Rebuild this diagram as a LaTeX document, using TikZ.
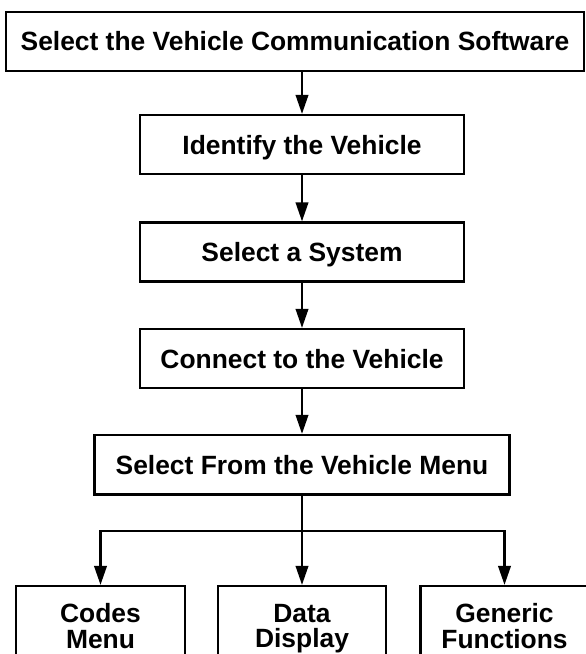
\documentclass[tikz,border=0pt]{standalone}
\usepackage{fontspec}
\setmainfont{Liberation Sans}
\usetikzlibrary{arrows.meta}
\begin{document}
\begin{tikzpicture}[x=1pt,y=-1pt,
  box/.style={draw=black, line width=2.2pt, inner sep=0pt, fill=white,
    font=\bfseries\fontsize{26.4}{25.6}\selectfont, text height=19pt, text depth=0pt},
  conn/.style={draw=black, line width=2.2pt},
  arr/.style={conn, -{Triangle[length=19pt,width=12.5pt]}}]
\useasboundingbox (0,0) rectangle (586,654);
\clip (0,0) rectangle (586,654);
\fill[white] (0,0) rectangle (586,654);
\node[box, minimum width=578pt, minimum height=59pt] (top) at (295,41.2) {Select the Vehicle Communication Software};
\node[box, minimum width=324pt, minimum height=59pt] (b2) at (302,144.5) {Identify the Vehicle};
\node[box, minimum width=324pt, minimum height=59pt] (b3) at (302,252) {Select a System};
\node[box, minimum width=324pt, minimum height=59pt] (b4) at (302,358.5) {Connect to the Vehicle};
\node[box, minimum width=415pt, minimum height=59.5pt] (b5) at (302,464.7) {Select From the Vehicle Menu};
\node[box, align=center, text height=, minimum width=169pt, minimum height=80pt] (c1) at (100.5,626) {Codes\\Menu};
\node[box, align=center, text height=, minimum width=168pt, minimum height=80pt] (c2) at (302,626) {Data\\Display};
\node[box, align=center, text height=, minimum width=168pt, minimum height=80pt] (c3) at (504.5,626) {Generic\\Functions};
\draw[arr] (b2.north |- top.south) -- (b2.north);
\draw[arr] (b2.south) -- (b3.north);
\draw[arr] (b3.south) -- (b4.north);
\draw[arr] (b4.south) -- (b5.north);
\coordinate (j) at (302,531);
\draw[conn] (b5.south) -- (j);
\draw[arr] (j) -- (c2.north);
\draw[arr] (j) -| (c1.north);
\draw[arr] (j) -| (c3.north);
\end{tikzpicture}
\end{document}
